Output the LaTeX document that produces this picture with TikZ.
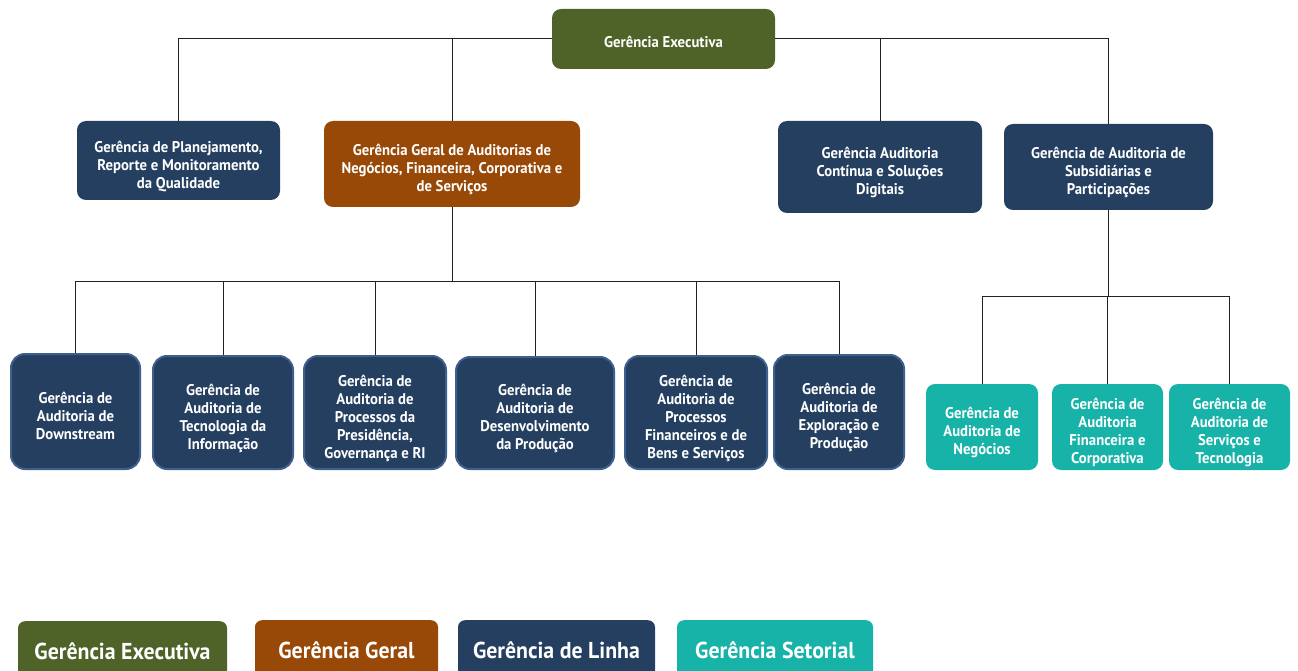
\documentclass[tikz,border=0pt]{standalone}
\usepackage{fontspec}
\setmainfont{PT Sans}[FakeStretch=0.95]
\definecolor{olive}{HTML}{4F6228}
\definecolor{brownG}{HTML}{984807}
\definecolor{navy}{HTML}{243F60}
\definecolor{navyedge}{HTML}{3F5F8C}
\definecolor{teal}{HTML}{17B3A8}
\definecolor{lineC}{HTML}{222222}
\newcommand{\bt}[1]{\raisebox{-6pt}[\height][\depth]{\begin{tabular}{@{}c@{}}#1\end{tabular}}}
\tikzset{
  box/.style={rounded corners=9pt, align=center, text=white, font=\bfseries\fontsize{15.5}{18}\selectfont, inner sep=2pt},
  exec/.style={box, fill=olive},
  geral/.style={box, fill=brownG},
  linha/.style={box, fill=navy},
  linhaB/.style={box, fill=navy, draw=navyedge, line width=2pt, rounded corners=14pt},
  setor/.style={box, fill=teal},
  legend/.style={rounded corners=7pt, text=white, font=\bfseries\fontsize{23}{26}\selectfont},
  conn/.style={draw=lineC, line width=1pt}
}
\begin{document}
\begin{tikzpicture}[x=1pt,y=1pt]
\useasboundingbox (0,0) rectangle (1298,-671);
% top level
\node[exec, minimum width=223pt, minimum height=60pt] (ge) at (663.5,-39) {\raisebox{-3pt}[\height][\depth]{Gerência Executiva}};
\node[linha, minimum width=203pt, minimum height=79pt] (plan) at (178.5,-160.5) {\bt{Gerência de Planejamento,\\Reporte e Monitoramento\\da Qualidade}};
\node[geral, minimum width=256pt, minimum height=86pt] (gg) at (452,-164) {\bt{Gerência Geral de Auditorias de\\Negócios, Financeira, Corporativa e\\de Serviços}};
\node[linha, minimum width=204pt, minimum height=92pt] (cont) at (880,-167) {\bt{Gerência Auditoria\\Contínua e Soluções\\Digitais}};
\node[linha, minimum width=209pt, minimum height=86pt] (subs) at (1108.5,-167) {\bt{Gerência de Auditoria de\\Subsidiárias e\\Participações}};
% row under geral
\node[linhaB, minimum width=129pt, minimum height=115pt] (down) at (75.5,-411.5) {\bt{Gerência de\\Auditoria de\\Downstream}};
\node[linhaB, minimum width=140pt, minimum height=113pt] (ti) at (223,-412.5) {\bt{Gerência de\\Auditoria de\\Tecnologia da\\Informação}};
\node[linhaB, minimum width=142pt, minimum height=113pt] (pres) at (375,-412.5) {\bt{Gerência de\\Auditoria de\\Processos da\\Presidência,\\Governança e RI}};
\node[linhaB, minimum width=158pt, minimum height=112pt] (dev) at (535,-413) {\bt{Gerência de\\Auditoria de\\Desenvolvimento\\da Produção}};
\node[linhaB, minimum width=142pt, minimum height=113pt] (fin) at (696,-412.5) {\bt{Gerência de\\Auditoria de\\Processos\\Financeiros e de\\Bens e Serviços}};
\node[linhaB, minimum width=130pt, minimum height=114pt] (exp) at (839,-412) {\bt{Gerência de\\Auditoria de\\Exploração e\\Produção}};
% row under subsidiarias
\node[setor, minimum width=112pt, minimum height=86pt] (neg) at (982,-427) {\bt{Gerência de\\Auditoria de\\Negócios}};
\node[setor, minimum width=111pt, minimum height=86pt] (fc) at (1107.5,-427) {\bt{Gerência de\\Auditoria\\Financeira e\\Corporativa}};
\node[setor, minimum width=121pt, minimum height=86pt] (st) at (1229.5,-427) {\bt{Gerência de\\Auditoria de\\Serviços e\\Tecnologia}};
% connectors
\draw[conn] (ge.west) -| (plan.north);
\draw[conn] (ge.west) -| (gg.north);
\draw[conn] (ge.east) -| (cont.north);
\draw[conn] (ge.east) -| (subs.north);
\coordinate (gj) at (452,-281);
\draw[conn] (gg.south) -- (gj);
\draw[conn] (gj) -| (down.north);
\draw[conn] (gj) -| (ti.north);
\draw[conn] (gj) -| (pres.north);
\draw[conn] (gj) -| (dev.north);
\draw[conn] (gj) -| (fin.north);
\draw[conn] (gj) -| (exp.north);
\coordinate (sj) at (1108.5,-296);
\draw[conn] (subs.south) -- (sj);
\draw[conn] (sj) -| (neg.north);
\draw[conn] (sj) -| (fc.north);
\draw[conn] (sj) -| (st.north);
% legend
\begin{scope}
\clip (0,0) rectangle (1298,-671);
\node[legend, fill=olive, minimum width=209pt, minimum height=60pt, anchor=north] (l1) at (122.5,-621) {\raisebox{-2pt}{Gerência Executiva}};
\node[legend, fill=brownG, minimum width=183pt, minimum height=60pt, anchor=north] (l2) at (346.5,-620) {\raisebox{-2pt}{Gerência Geral}};
\node[legend, fill=navy, minimum width=197pt, minimum height=60pt, anchor=north] (l3) at (556.5,-620) {\raisebox{-2pt}{Gerência de Linha}};
\node[legend, fill=teal, minimum width=196pt, minimum height=60pt, anchor=north] (l4) at (775,-620) {\raisebox{-2pt}{Gerência Setorial}};
\end{scope}
\end{tikzpicture}
\end{document}
